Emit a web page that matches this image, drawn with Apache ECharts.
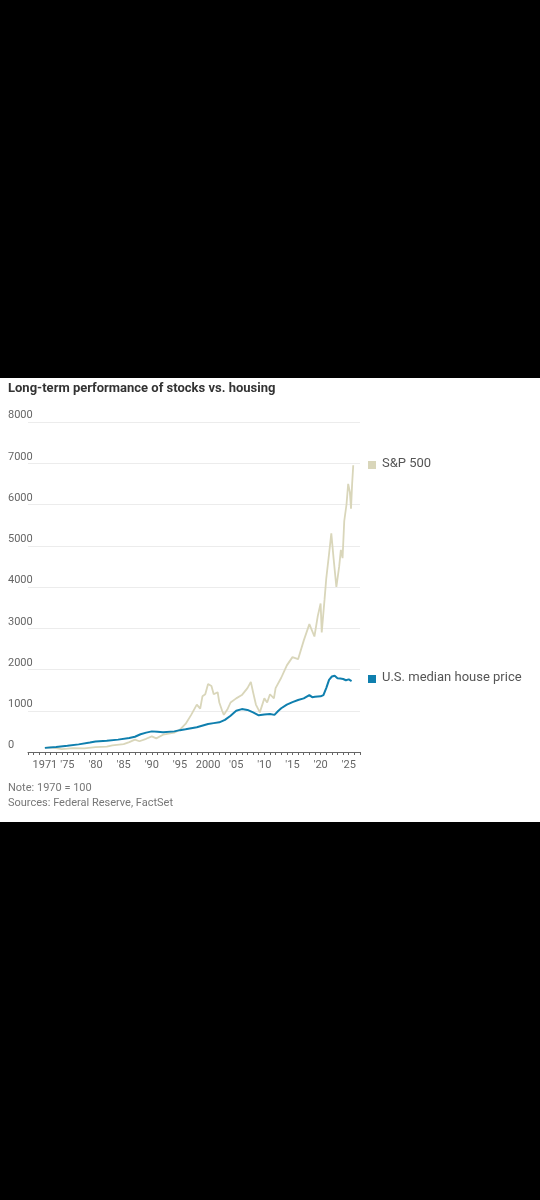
<!DOCTYPE html>
<html>
<head>
<meta charset="utf-8">
<script src="https://cdn.jsdelivr.net/npm/echarts@6/dist/echarts.min.js"></script>
<style>html,body{margin:0;padding:0;background:#000}#chart{width:540px;height:1200px}</style>
</head>
<body>
<div id="chart"></div>
<script>
const houseYears = [1971, 1973, 1975, 1977, 1979, 1980, 1982, 1984, 1986, 1987, 1988, 1989, 1990, 1991, 1992, 1994, 1995, 1996, 1998, 2000, 2001, 2002, 2003, 2004, 2005, 2006, 2007, 2008, 2009, 2010, 2011, 2011.8, 2012.5, 2013, 2014, 2015, 2016, 2017, 2018, 2018.5, 2019, 2020, 2020.5, 2021, 2021.5, 2022, 2022.5, 2023, 2023.5, 2024, 2024.5, 2025, 2025.5];
const houseValues = [100, 120, 150, 185, 230, 255, 270, 300, 340, 370, 430, 470, 500, 490, 480, 500, 530, 550, 600, 680, 700, 720, 780, 880, 1000, 1040, 1020, 960, 890, 910, 920, 900, 1000, 1060, 1150, 1210, 1260, 1300, 1380, 1330, 1340, 1350, 1380, 1550, 1750, 1830, 1850, 1790, 1780, 1770, 1740, 1760, 1720];
const spYears = [1971, 1972, 1973, 1974, 1975, 1976, 1978, 1980, 1982, 1983, 1985, 1986, 1987, 1987.8, 1989, 1990, 1990.8, 1992, 1994, 1995, 1996, 1997, 1998, 1998.6, 1999, 1999.5, 2000, 2000.6, 2001, 2001.7, 2002, 2002.5, 2002.8, 2003.5, 2004, 2005, 2006, 2007, 2007.6, 2008, 2008.5, 2009.2, 2010, 2010.5, 2011, 2011.7, 2012, 2013, 2014, 2015, 2016, 2017, 2018, 2018.9, 2019.5, 2020, 2020.2, 2020.7, 2021, 2021.5, 2021.9, 2022.3, 2022.8, 2023.3, 2023.6, 2023.9, 2024.2, 2024.6, 2024.9, 2025.2, 2025.4, 2025.6, 2025.8];
const spValues = [100, 110, 95, 70, 80, 95, 90, 120, 130, 160, 190, 240, 300, 260, 320, 380, 330, 420, 470, 540, 680, 900, 1150, 1050, 1350, 1400, 1650, 1600, 1400, 1450, 1200, 1000, 900, 1050, 1200, 1300, 1380, 1550, 1700, 1450, 1150, 960, 1300, 1200, 1400, 1300, 1550, 1800, 2100, 2300, 2250, 2700, 3100, 2800, 3300, 3600, 2900, 3700, 4200, 4800, 5300, 4700, 4000, 4500, 4900, 4700, 5600, 6000, 6500, 6300, 5900, 6500, 6950];
const yTicks = [0, 1000, 2000, 3000, 4000, 5000, 6000, 7000, 8000];

const zip = (xs, ys) => xs.map((x, i) => [x, ys[i]]);
const font = 'Roboto, "Noto Sans", sans-serif';
const chart = echarts.init(document.getElementById('chart'));

chart.setOption({
  backgroundColor: '#000',
  animation: false,
  textStyle: { fontFamily: font },
  graphic: [
    { type: 'rect', z: -10, shape: { x: 0, y: 378, width: 540, height: 444 }, style: { fill: '#fff' } },
    { type: 'text', left: 8, top: 382, style: { text: 'Long-term performance of stocks vs. housing', font: 'bold 13px ' + font, fill: '#333' } },
    { type: 'rect', shape: { x: 368, y: 461, width: 8, height: 8 }, style: { fill: '#d9d6ba' } },
    { type: 'text', left: 382, top: 457, style: { text: 'S&P 500', font: '13px ' + font, fill: '#555' } },
    { type: 'rect', shape: { x: 368, y: 675, width: 8, height: 8 }, style: { fill: '#0f7fae' } },
    { type: 'text', left: 382, top: 671, style: { text: 'U.S. median house price', font: '13px ' + font, fill: '#555' } },
    { type: 'text', left: 8, top: 783, style: { text: 'Note: 1970 = 100', font: '11px ' + font, fill: '#777' } },
    { type: 'text', left: 8, top: 798, style: { text: 'Sources: Federal Reserve, FactSet', font: '11px ' + font, fill: '#777' } }
  ],
  grid: { left: 28, right: 180, top: 422, bottom: 448 },
  xAxis: {
    type: 'value', min: 1968, max: 2027, interval: 1,
    axisLine: { lineStyle: { color: '#666' } },
    axisTick: { show: true, length: 3, lineStyle: { color: '#666' } },
    splitLine: { show: false },
    axisLabel: {
      color: '#666', fontSize: 11, margin: 8, showMinLabel: true, showMaxLabel: true,
      formatter: v => {
        if (v === 1971 || v === 2000) return String(v);
        if (v >= 1975 && v <= 2025 && v % 5 === 0) return "'" + String(v).slice(2);
        return '';
      }
    }
  },
  yAxis: {
    type: 'value', min: yTicks[0], max: yTicks[yTicks.length - 1], interval: 1000,
    axisLine: { show: false }, axisTick: { show: false },
    splitLine: { lineStyle: { color: '#ececec' } },
    axisLabel: { color: '#666', fontSize: 11, align: 'left', margin: 20, verticalAlign: 'bottom', padding: [0, 0, 1, 0], formatter: v => String(v) }
  },
  series: [
    { name: 'S&P 500', type: 'line', data: zip(spYears, spValues), showSymbol: false, lineStyle: { color: '#d9d6ba', width: 1.8 }, z: 2 },
    { name: 'U.S. median house price', type: 'line', data: zip(houseYears, houseValues), showSymbol: false, lineStyle: { color: '#0f7fae', width: 2 }, z: 3 }
  ]
});
</script>
</body>
</html>
